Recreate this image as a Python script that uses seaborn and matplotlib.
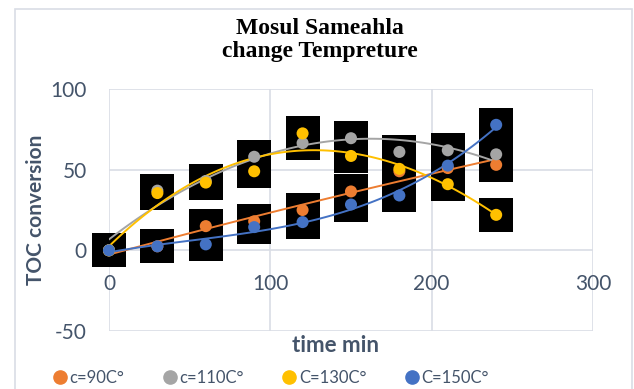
import numpy as np
import pandas as pd
import matplotlib
matplotlib.use("Agg")
import matplotlib.pyplot as plt
import seaborn as sns
from matplotlib.lines import Line2D

time_min = [0, 30, 60, 90, 120, 150, 180, 210, 240]
c90 = [0, 2.5, 15, 18, 25, 36.5, 49, 51, 53]
c110 = [0, 37, 43, 58, 66.5, 69.5, 61, 62, 59.5]
c130 = [0, 35.5, 42, 49, 72.5, 58.5, 50.5, 41, 22]
c150 = [0, 2.5, 3.7, 14.4, 17.5, 28.4, 34, 52.5, 77.8]
series_labels = ["c=90C°", "c=110C°", "C=130C°", "C=150C°"]
colors = ["#ED7D31", "#A5A5A5", "#FFC000", "#4472C4"]
trend_orders = [2, 2, 3, 3]

frames = []
for lab, vals in zip(series_labels, [c90, c110, c130, c150]):
    frames.append(pd.DataFrame({"time": time_min, "value": vals, "series": lab}))
df = pd.concat(frames, ignore_index=True)

sns.set_theme(style="white")
plt.rcParams["font.family"] = ["Lato", "DejaVu Sans"]
plt.rcParams["axes.unicode_minus"] = False

txt_color = "#44546A"
grid_color = "#D9DDE5"

fig = plt.figure(figsize=(6.34, 3.89), dpi=100)
ax = fig.add_axes([0.1719, 0.1491, 0.7634, 0.6221])

# black square backgrounds
ax.scatter(df["time"], df["value"], marker="s", s=24 ** 2, color="black",
           linewidths=0, zorder=2, clip_on=False)

for lab, col, order in zip(series_labels, colors, trend_orders):
    sub = df[df["series"] == lab]
    sns.regplot(data=sub, x="time", y="value", order=order, ci=None, scatter=False,
                ax=ax, line_kws=dict(color=col, lw=1.4, zorder=3))

for lab, col in zip(series_labels, colors):
    sub = df[df["series"] == lab]
    sns.scatterplot(data=sub, x="time", y="value", ax=ax, color=col, s=75,
                    edgecolor="none", zorder=4, clip_on=False, legend=False)

ax.set_xlim(0, 300)
ax.set_ylim(-50, 100)
ax.set_xticks([0, 100, 200, 300])
ax.set_yticks([-50, 0, 50, 100])
ax.grid(True, color=grid_color, lw=1.2, zorder=0)
ax.set_axisbelow(True)
for s in ax.spines.values():
    s.set_visible(False)
ax.spines["bottom"].set_position(("data", 0))
ax.tick_params(axis="x", length=0, pad=17, labelsize=15, labelcolor=txt_color)
ax.tick_params(axis="y", length=0, pad=16, labelsize=15, labelcolor=txt_color)
ax.set_xlabel("")
ax.set_ylabel("")

fig.text(36 / 634, 1 - 210 / 389, "TOC conversion", rotation=90, ha="center",
         va="center", fontsize=15, fontweight="bold", color=txt_color)
fig.text(336 / 634, 1 - 345 / 389, "time min", ha="center", va="center",
         fontsize=16, fontweight="bold", color=txt_color)
fig.text(320 / 634, 1 - 40 / 389, "Mosul Sameahla\nchange Tempreture", ha="center",
         va="center", fontsize=17, fontweight="bold", family="Liberation Serif",
         color="black", linespacing=1.1)

handles = [Line2D([], [], marker="o", ls="none", color=c, markersize=9.5) for c in colors]
fig.legend(handles, series_labels, loc="center", bbox_to_anchor=(271 / 634, 1 - 378 / 389),
           ncol=4, frameon=False, fontsize=12, handletextpad=0.2, columnspacing=2.3,
           labelcolor=txt_color, handlelength=0.8, borderpad=0)

# chart area border
fig.patches.append(matplotlib.patches.Rectangle((15 / 634, -0.01), 617 / 634, 1 - 9 / 389 + 0.01,
                   transform=fig.transFigure, fill=False, edgecolor=grid_color, lw=1.2))

fig.savefig("out.png", dpi=100)
